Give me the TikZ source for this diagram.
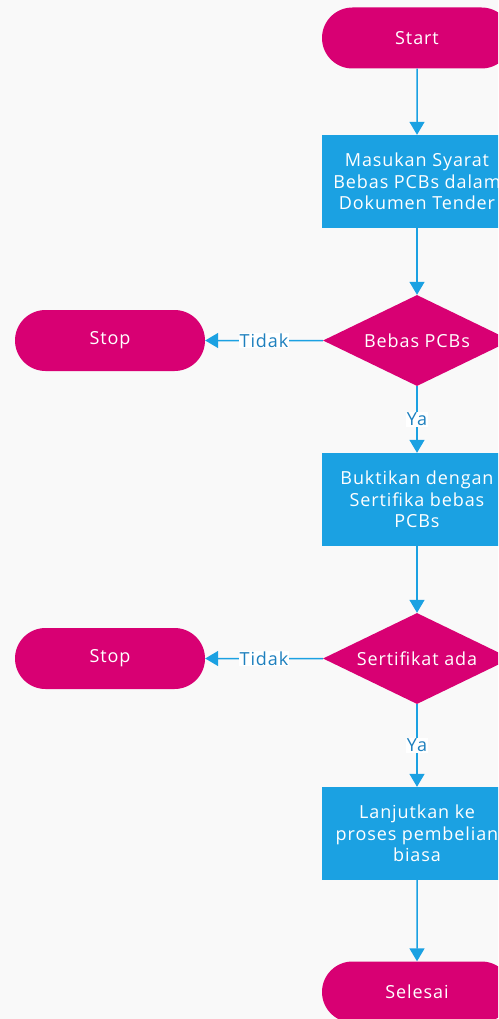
\documentclass[tikz,border=0pt]{standalone}
\usepackage{fontspec}
\setmainfont{Open Sans}[LetterSpace=5]
\usetikzlibrary{shapes.geometric,shapes.misc,arrows.meta}
\definecolor{flowpink}{HTML}{D80073}
\definecolor{flowblue}{HTML}{1BA1E2}
\definecolor{labelblue}{HTML}{1E80BE}
\definecolor{bggray}{HTML}{F9F9F9}
\tikzset{
  terminal/.style={rounded rectangle, fill=flowpink, text=white, minimum width=190pt, minimum height=61pt, inner sep=0pt},
  process/.style={rectangle, fill=flowblue, text=white, minimum width=190pt, minimum height=93pt, inner sep=0pt, align=center},
  decision/.style={diamond, aspect=2, fill=flowpink, text=white, minimum width=188pt, minimum height=91pt, inner sep=0pt},
  flow/.style={draw=flowblue, line width=1.5pt, -{Triangle[width=15pt,length=13pt]}},
  answer/.style={fill=white, text=labelblue, inner sep=1pt}
}
\begin{document}
\begin{tikzpicture}[x=1pt,y=-1pt,font=\fontsize{18}{21.5}\selectfont]
\clip (0,0) rectangle (498,1019);
\fill[bggray] (0,0) rectangle (498,1019);
\node[terminal] (start) at (417,38) {Start};
\node[process] (syarat) at (417,181.5) {Masukan Syarat\\Bebas PCBs dalam\\Dokumen Tender};
\node[decision] (bebas) at (417,340.5) {Bebas PCBs};
\node[terminal] (stop1) at (110,340.5) {Stop};
\node[process] (bukti) at (417,499.5) {Buktikan dengan\\Sertifika bebas\\PCBs};
\node[decision] (sertifikat) at (417,658.5) {Sertifikat ada};
\node[terminal] (stop2) at (110,658.5) {Stop};
\node[process] (lanjut) at (417,833.5) {Lanjutkan ke\\proses pembelian\\biasa};
\node[terminal] (selesai) at (417,992) {Selesai};
\draw[flow] (start) -- (syarat);
\draw[flow] (syarat) -- (bebas);
\draw[flow] (bebas) -- node[answer] {Tidak} (stop1);
\draw[flow] (bebas) -- node[answer] {Ya} (bukti);
\draw[flow] (bukti) -- (sertifikat);
\draw[flow] (sertifikat) -- node[answer] {Tidak} (stop2);
\draw[flow] (sertifikat) -- node[answer] {Ya} (lanjut);
\draw[flow] (lanjut) -- (selesai);
\end{tikzpicture}
\end{document}
